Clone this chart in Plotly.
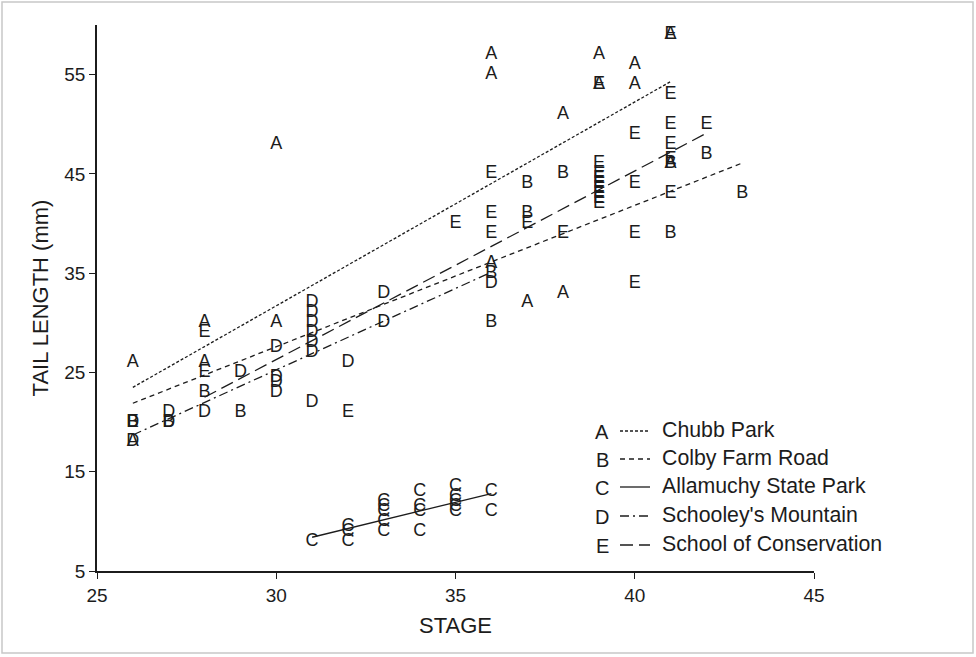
import plotly.graph_objects as go

# Tail length (mm) by developmental stage, one letter per site
site_letters = ["A", "B", "C", "D", "E"]
site_names = ["Chubb Park", "Colby Farm Road", "Allamuchy State Park",
              "Schooley's Mountain", "School of Conservation"]

a_stage = [26, 26, 28, 28, 30, 30, 36, 36, 36, 37, 38, 38, 39, 39, 40, 40, 41, 41]
a_length = [26, 18, 30, 26, 48, 30, 57, 55, 36, 32, 51, 33, 57, 54, 56, 54, 59, 46]

b_stage = [26, 27, 28, 29, 36, 36, 37, 37, 38, 41, 41, 42, 43]
b_length = [20, 20, 23, 21, 35, 30, 44, 41, 45, 39, 46, 47, 43]

c_stage = [31, 32, 32, 32, 33, 33, 33, 33, 33, 34, 34, 34, 34,
           35, 35, 35, 35, 35, 36, 36]
c_length = [8, 9.5, 9, 8, 12, 11.5, 11, 10, 9, 13, 11.5, 11, 9,
            13.5, 12.5, 12, 11.5, 11, 13, 11]

d_stage = [26, 26, 27, 27, 28, 29, 30, 30, 30, 30, 31, 31, 31, 31, 31, 31, 31,
           32, 33, 33, 36]
d_length = [20, 18, 21, 20, 21, 25, 27.5, 24.5, 24, 23, 32, 31, 30, 29, 28, 27, 22,
            26, 33, 30, 34]

e_stage = [26, 28, 28, 32, 35, 36, 36, 36, 37, 38,
           39, 39, 39, 39, 39, 39, 39, 39, 39,
           40, 40, 40, 40, 41, 41, 41, 41, 41, 41, 42]
e_length = [20, 29, 25, 21, 40, 45, 41, 39, 40, 39,
            46, 45, 44.5, 44, 43.5, 43, 42.5, 42, 54,
            49, 44, 39, 34, 59, 53, 50, 48, 46.5, 43, 50]

# Fitted regression lines per site: (stage start, stage end), (length start, length end)
fit_stage = [[26, 41], [26, 43], [31, 36], [26, 36], [28, 42]]
fit_length = [[23.5, 54.3], [21.9, 46.1], [8.4, 12.8], [18.7, 35.1], [22.5, 49.1]]

line_dash = ["3px,2px", "5px,4px", "solid", "9px,4px,2px,4px", "13px,6px"]

stages = [a_stage, b_stage, c_stage, d_stage, e_stage]
lengths = [a_length, b_length, c_length, d_length, e_length]

FONT = "Liberation Sans, Arial, sans-serif"
INK = "#1c1c1c"

fig = go.Figure()

for i, letter in enumerate(site_letters):
    fig.add_trace(go.Scatter(
        x=fit_stage[i], y=fit_length[i], mode="lines",
        line=dict(color=INK, width=1.3, dash=line_dash[i]),
        showlegend=False, hoverinfo="skip",
    ))

for i, letter in enumerate(site_letters):
    fig.add_trace(go.Scatter(
        x=stages[i], y=lengths[i], mode="text",
        text=[letter] * len(stages[i]),
        textposition="middle center",
        textfont=dict(family=FONT, size=18, color=INK),
        name=site_names[i], showlegend=False,
    ))

# Key: letter, line sample, site name (paper coordinates)
plot_left, plot_right, plot_top, plot_bottom = 97, 814, 25, 571
pw = plot_right - plot_left
ph = plot_bottom - plot_top


def px_x(px):
    return (px - plot_left) / pw


def px_y(py):
    return (plot_bottom - py) / ph


key_rows = [431, 459, 487, 516, 545]
for i, row in enumerate(key_rows):
    fig.add_annotation(x=px_x(602), y=px_y(row + 1), xref="paper", yref="paper",
                       text=site_letters[i], showarrow=False,
                       font=dict(family=FONT, size=20, color=INK),
                       xanchor="center", yanchor="middle")
    fig.add_shape(type="line", xref="paper", yref="paper",
                  x0=px_x(620), x1=px_x(650), y0=px_y(row), y1=px_y(row),
                  line=dict(color=INK, width=1.3, dash=line_dash[i]))
    fig.add_annotation(x=px_x(660), y=px_y(row - 1), xref="paper", yref="paper",
                       text=site_names[i], showarrow=False,
                       font=dict(family=FONT, size=21.3, color=INK),
                       xanchor="left", yanchor="middle")

# Thin grey frame around the whole figure
fig.add_shape(type="rect", xref="paper", yref="paper",
              x0=px_x(2), x1=px_x(973), y0=px_y(653), y1=px_y(2),
              line=dict(color="#c8c8c8", width=1.5))

fig.update_layout(
    width=976, height=657,
    margin=dict(l=plot_left, r=976 - plot_right, t=plot_top, b=657 - plot_bottom),
    paper_bgcolor="white", plot_bgcolor="white",
    font=dict(family=FONT, color=INK),
    showlegend=False,
)
fig.update_xaxes(
    range=[25, 45], tick0=25, dtick=5, showgrid=False, zeroline=False,
    showline=True, linecolor=INK, linewidth=1.5,
    ticks="outside", ticklen=6, tickcolor=INK, tickwidth=1.3,
    tickfont=dict(family=FONT, size=19, color=INK),
    title=dict(text="STAGE", font=dict(family=FONT, size=22, color=INK), standoff=13),
)
fig.update_yaxes(
    range=[5, 60], tick0=5, dtick=10, showgrid=False, zeroline=False,
    showline=True, linecolor=INK, linewidth=1.5,
    ticks="outside", ticklen=6, tickcolor=INK, tickwidth=1.3,
    tickfont=dict(family=FONT, size=19, color=INK),
    title=dict(text="TAIL LENGTH (mm)", font=dict(family=FONT, size=22, color=INK), standoff=10),
)

fig.write_html("out.html")
